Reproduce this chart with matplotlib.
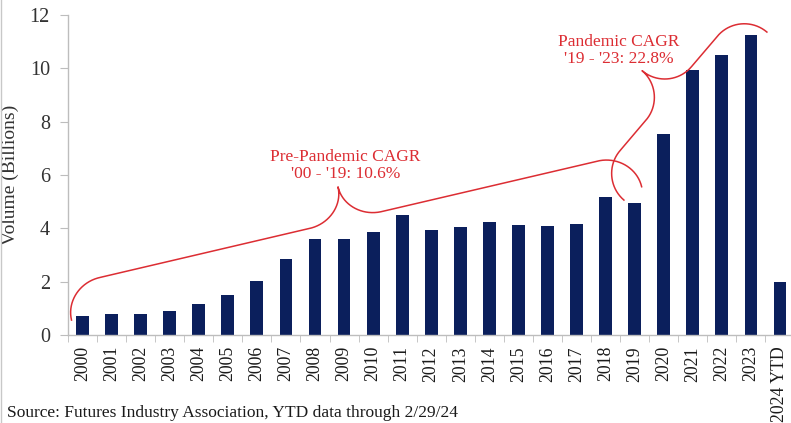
import matplotlib
matplotlib.use("Agg")
import matplotlib.pyplot as plt
from matplotlib.lines import Line2D
import numpy as np

# ---- data ----
categories = ["2000", "2001", "2002", "2003", "2004", "2005", "2006", "2007",
              "2008", "2009", "2010", "2011", "2012", "2013", "2014", "2015",
              "2016", "2017", "2018", "2019", "2020", "2021", "2022", "2023",
              "2024 YTD"]
volumes = [0.71, 0.78, 0.78, 0.90, 1.15, 1.50, 2.04, 2.86, 3.59, 3.59, 3.85,
           4.50, 3.94, 4.04, 4.22, 4.14, 4.07, 4.16, 5.19, 4.94, 7.52, 9.94,
           10.50, 11.25, 1.98]
y_ticks = [0, 2, 4, 6, 8, 10, 12]
y_label = "Volume (Billions)"
source_text = "Source: Futures Industry Association, YTD data through 2/29/24"
pre_label = "Pre-Pandemic CAGR\n'00 - '19: 10.6%"
pan_label = "Pandemic CAGR\n'19 - '23: 22.8%"
# brace anchors (category index, value)
pre_brace = [(-0.38, 0.56), (19.24, 5.56)]
pan_brace = [(18.63, 5.06), (23.55, 11.36)]
pre_text_pos = (9.05, 5.72)
pan_text_pos = (18.44, 10.05)

BAR = "#0b1f5c"
RED = "#dc2d33"
GRAY = "#bdbdbd"
TXT = "#333333"

plt.rcParams["font.family"] = ["Liberation Serif", "DejaVu Serif"]

W, H = 791, 423
fig = plt.figure(figsize=(W / 100, H / 100), dpi=100)
left, right, bottom, top = 68, 794.5, 335, 15
ax = fig.add_axes([left / W, (H - bottom) / H, (right - left) / W, (bottom - top) / H])

x = np.arange(len(categories))
ax.bar(x, volumes, width=0.44, color=BAR, zorder=2)
ax.set_xlim(-0.5, len(categories) - 0.5)
ax.set_ylim(0, 12)

for s in ["top", "right"]:
    ax.spines[s].set_visible(False)
for s in ["left", "bottom"]:
    ax.spines[s].set_color(GRAY)
    ax.spines[s].set_linewidth(1.0)

ax.set_yticks(y_ticks)
ax.set_yticklabels([str(v) for v in y_ticks], fontsize=14.5, color=TXT)
ax.tick_params(axis="y", length=6, color=GRAY, pad=7)
ax.set_xticks(x)
ax.set_xticklabels(categories, rotation=90, fontsize=12.8, color="#1a1a1a")
ax.tick_params(axis="x", which="major", length=0, pad=8)
ax.set_xticks(np.arange(-0.5, len(categories), 1.0), minor=True)
ax.tick_params(axis="x", which="minor", length=5, color=GRAY)
ax.set_ylabel(y_label, fontsize=14, color=TXT)
ax.yaxis.set_label_coords((19 - left) / (right - left), 0.5)


def brace(p0, p1, h_arm, h_tip, r, tip_frac=0.5, n=60):
    d0 = ax.transData.transform(p0)
    d1 = ax.transData.transform(p1)
    vec = d1 - d0
    L = np.hypot(*vec)
    uh = vec / L
    nh = np.array([-uh[1], uh[0]])
    tu = L * tip_frac
    k = 0.55

    def cub(a, b, c, d):
        t = np.linspace(0, 1, n)[:, None]
        a, b, c, d = map(np.array, (a, b, c, d))
        return (1 - t) ** 3 * a + 3 * (1 - t) ** 2 * t * b + 3 * (1 - t) * t ** 2 * c + t ** 3 * d

    segs = [
        cub((0, 0), (0, k * h_arm), ((1 - k) * r, h_arm), (r, h_arm)),
        cub((r, h_arm), (r, h_arm), (tu - r, h_arm), (tu - r, h_arm)),
        cub((tu - r, h_arm), (tu - (1 - k) * r, h_arm), (tu, h_tip - k * (h_tip - h_arm)), (tu, h_tip)),
        cub((tu, h_tip), (tu, h_tip - k * (h_tip - h_arm)), (tu + (1 - k) * r, h_arm), (tu + r, h_arm)),
        cub((tu + r, h_arm), (tu + r, h_arm), (L - r, h_arm), (L - r, h_arm)),
        cub((L - r, h_arm), (L - (1 - k) * r, h_arm), (L, k * h_arm), (L, 0)),
    ]
    loc = np.vstack(segs)
    disp = d0 + loc[:, :1] * uh + loc[:, 1:] * nh
    dat = ax.transData.inverted().transform(disp)
    ax.plot(dat[:, 0], dat[:, 1], color=RED, lw=1.1, zorder=3, clip_on=False)


brace(pre_brace[0], pre_brace[1], 35, 69, 37, tip_frac=0.495)
brace(pan_brace[0], pan_brace[1], 35, 70, 35, tip_frac=0.5)

ax.text(*pre_text_pos, pre_label, ha="center", va="bottom", fontsize=12.5,
        color=RED, linespacing=1.1, zorder=4)
ax.text(*pan_text_pos, pan_label, ha="center", va="bottom", fontsize=12.5,
        color=RED, linespacing=1.1, zorder=4)

fig.text(7 / W, 2 / H, source_text, ha="left", va="bottom", fontsize=12.5, color="#1a1a1a")
fig.add_artist(Line2D([1 / W, 1 / W], [0, 1], transform=fig.transFigure, color="#c8c8c8", lw=1))

fig.savefig("out.png", dpi=100)
